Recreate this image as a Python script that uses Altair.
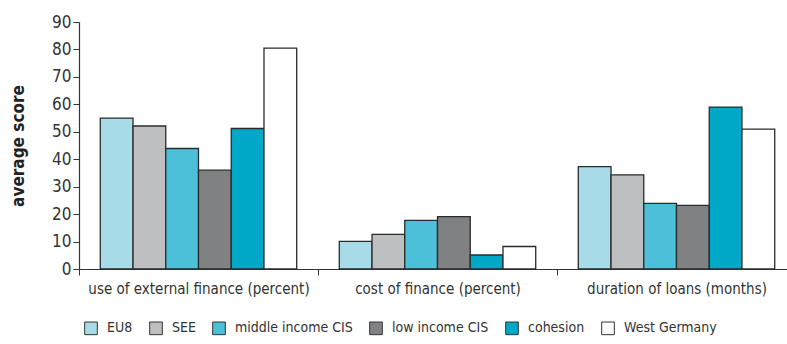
import altair as alt
import pandas as pd

categories = ["use of external finance (percent)", "cost of finance (percent)", "duration of loans (months)"]
groups = ["EU8", "SEE", "middle income CIS", "low income CIS", "cohesion", "West Germany"]
colors = ["#a8dbe8", "#bebfc1", "#4dc0d9", "#808183", "#00a8c8", "#ffffff"]
values = {
    "EU8": [55.0, 10.1, 37.3],
    "SEE": [52.1, 12.6, 34.3],
    "middle income CIS": [43.9, 17.7, 23.9],
    "low income CIS": [36.0, 19.1, 23.2],
    "cohesion": [51.2, 5.1, 59.0],
    "West Germany": [80.5, 8.2, 51.0],
}

rows = []
for g in groups:
    for c, v in zip(categories, values[g]):
        rows.append({"category": c, "group": g, "value": v})
df = pd.DataFrame(rows)

FONT = "DejaVu Sans Condensed, Roboto, sans-serif"

chart = alt.Chart(df).mark_bar(stroke="#2b2b2b", strokeWidth=1.3).encode(
    x=alt.X("category:N", sort=categories,
            scale=alt.Scale(range=[0, 717], paddingInner=0, paddingOuter=0),
            axis=alt.Axis(title=None, labelAngle=0, tickBand="extent", labelFontSize=15,
                          labelColor="#333333", labelFont=FONT, domainColor="#333333",
                          tickColor="#333333", tickSize=6, labelPadding=6, domainWidth=1.2,
                          labelLimit=0)),
    xOffset=alt.XOffset("group:N", sort=groups,
                        scale=alt.Scale(paddingInner=0, paddingOuter=0.65)),
    y=alt.Y("value:Q", scale=alt.Scale(domain=[0, 90]),
            axis=alt.Axis(title="average score", values=list(range(0, 91, 10)), grid=False,
                          labelFontSize=17, labelColor="#333333", labelFont=FONT,
                          titleFont=FONT, titleFontSize=17, titleFontWeight="bold",
                          titleColor="#222222", titlePadding=24, domainColor="#333333",
                          tickColor="#333333", tickSize=6, domainWidth=1.2)),
    fill=alt.Fill("group:N", sort=groups, scale=alt.Scale(domain=groups, range=colors),
                  legend=alt.Legend(title=None, orient="none", direction="horizontal",
                                    legendX=5, legendY=299, symbolType="square",
                                    symbolSize=160, symbolStrokeColor="#333333",
                                    symbolStrokeWidth=1, labelFontSize=14, labelFont=FONT,
                                    labelColor="#333333", labelOffset=9, columnPadding=14)),
).properties(
    width=708, height=247,
    autosize=alt.AutoSizeParams(type="none"),
    padding={"left": 79, "top": 22, "right": 0, "bottom": 75},
).configure_view(stroke=None)

chart.save("out.html", embed_options={"renderer": "svg", "actions": False})
